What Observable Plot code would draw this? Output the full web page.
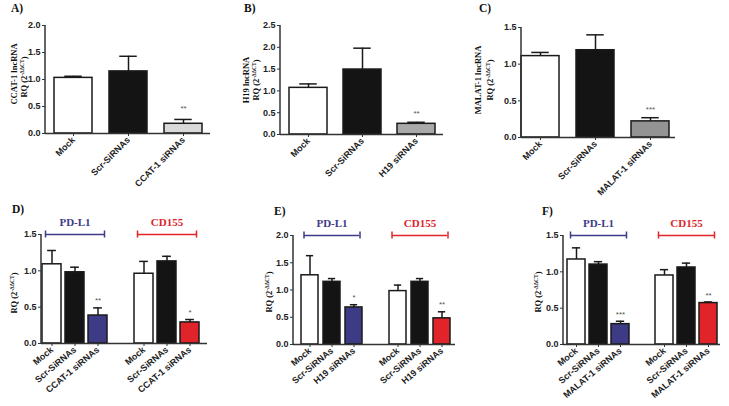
<!DOCTYPE html>
<html><head><meta charset="utf-8">
<script src="https://cdn.jsdelivr.net/npm/d3@7"></script>
<script src="https://cdn.jsdelivr.net/npm/@observablehq/plot@0.6"></script>
<style>
body{margin:0;background:#fff;}
#fig{position:relative;width:729px;height:406px;overflow:hidden;background:#fff;}
.panel{position:absolute;}
#overlay{position:absolute;left:0;top:0;pointer-events:none;}
</style></head><body><div id="fig"></div>
<script>
// ---------------- DATA ----------------
// Panel A
const catsA = ["Mock", "Scr-SiRNAs", "CCAT-1 siRNAs"];
const meanA = [1.03, 1.15, 0.18];
const errA  = [1.06, 1.43, 0.26];   // upper end of error bar
const sigA  = ["", "", "**"];
const ticksA = [0, 0.5, 1.0, 1.5, 2.0];
// Panel B
const catsB = ["Mock", "Scr-SiRNAs", "H19 siRNAs"];
const meanB = [1.07, 1.49, 0.245];
const errB  = [1.16, 1.98, 0.28];
const sigB  = ["", "", "**"];
const ticksB = [0, 0.5, 1.0, 1.5, 2.0, 2.5];
// Panel C
const catsC = ["Mock", "Scr-SiRNAs", "MALAT-1 siRNAs"];
const meanC = [1.11, 1.19, 0.22];
const errC  = [1.16, 1.40, 0.27];
const sigC  = ["", "", "***"];
const ticksC = [0, 0.5, 1.0, 1.5];

const genes = ["PD-L1", "CD155"];
// Panel D (CCAT-1)
const catsD = ["Mock", "Scr-SiRNAs", "CCAT-1 siRNAs"];
const pdl1D = [1.09, 0.98, 0.385];  const pdl1ErrD = [1.28, 1.05, 0.49];  const pdl1SigD = ["", "", "**"];
const cd155D = [0.96, 1.13, 0.29];  const cd155ErrD = [1.13, 1.20, 0.33]; const cd155SigD = ["", "", "*"];
const ticksD = [0, 0.5, 1.0, 1.5];
// Panel E (H19)
const catsE = ["Mock", "Scr-SiRNAs", "H19 siRNAs"];
const pdl1E = [1.27, 1.15, 0.68];   const pdl1ErrE = [1.63, 1.21, 0.73];  const pdl1SigE = ["", "", "*"];
const cd155E = [0.98, 1.15, 0.48];  const cd155ErrE = [1.09, 1.21, 0.60]; const cd155SigE = ["", "", "**"];
const ticksE = [0, 0.5, 1.0, 1.5, 2.0];
// Panel F (MALAT-1)
const catsF = ["Mock", "Scr-SiRNAs", "MALAT-1 siRNAs"];
const pdl1F = [1.17, 1.10, 0.28];   const pdl1ErrF = [1.33, 1.14, 0.32];  const pdl1SigF = ["", "", "***"];
const cd155F = [0.95, 1.06, 0.57];  const cd155ErrF = [1.03, 1.12, 0.585]; const cd155SigF = ["", "", "**"];
const ticksF = [0, 0.5, 1.0, 1.5];

// ---------------- STYLE ----------------
const INK = "#1a1a1a", AX = "#333";
const BLUE = "#3d3b86", RED = "#e0242a";
const fig = d3.select("#fig");

function yAxisLine(yMax) {
  return (index, scales, values, dims) => d3.create("svg:line")
    .attr("x1", dims.marginLeft).attr("x2", dims.marginLeft)
    .attr("y1", scales.y(0)).attr("y2", scales.y(yMax))
    .attr("stroke", AX).attr("stroke-width", 1.5).node();
}

function makePanel(g) {
  const {left, top, width, height, frameL, frameR, yTopPx, yBotPx, ticks, insetL, insetR, bw, domain, axisTicks, fmt, rot, rows, extra, starDy} = g;
  const n = domain.length;
  const L = frameR - frameL - insetL - insetR;
  const step = (L - bw) / (n - 1);
  const pi = 1 - bw / step;
  const yMax = ticks[ticks.length - 1];
  const capIn = bw * 0.27;
  const plot = Plot.plot({
    width, height,
    marginLeft: frameL - left, marginRight: left + width - frameR,
    marginTop: yTopPx - top, marginBottom: top + height - yBotPx,
    style: {background: "transparent", overflow: "visible", fontFamily: "'Liberation Sans', Arial, sans-serif", fontWeight: "bold", color: "#222"},
    x: {domain, paddingInner: pi, paddingOuter: 0, align: 0.5, insetLeft: insetL, insetRight: insetR},
    y: {domain: [0, yMax]},
    color: {type: "identity"},
    marks: [
      Plot.barY(rows, {x: "key", y: "mean", fill: "fill", stroke: INK, strokeWidth: 1.5}),
      Plot.ruleX(rows, {x: "key", y1: "mean", y2: "err", stroke: INK, strokeWidth: 1.5}),
      Plot.tickY(rows, {x: "key", y: "err", stroke: INK, strokeWidth: 1.5, insetLeft: capIn, insetRight: capIn}),
      Plot.text(rows, {x: "key", y: "err", text: "sig", dy: starDy, fontSize: 8, fill: "#555", fontWeight: "normal"}),
      Plot.ruleY([0], {stroke: AX, strokeWidth: 1.5}),
      yAxisLine(yMax),
      Plot.axisY({ticks, tickFormat: d3.format(".1f"), tickSize: 3, tickPadding: 2, label: null, fontSize: 9, stroke: AX}),
      Plot.axisX({ticks: axisTicks, tickFormat: fmt, tickRotate: rot, tickSize: 3, tickPadding: 2, label: null, fontSize: 9, stroke: AX}),
      ...(extra ? extra({bw, yMax, pxPerUnit: (yBotPx - yTopPx) / yMax}) : [])
    ]
  });
  fig.append("div").attr("class", "panel")
    .style("left", left + "px").style("top", top + "px").style("width", width + "px")
    .node().appendChild(plot);
}

function topRows(cats, mean, err, sig, fills) {
  return cats.map((c, i) => ({key: c, mean: mean[i], err: err[i], sig: sig[i], fill: fills[i]}));
}

makePanel({left: 0, top: 0, width: 240, height: 200, frameL: 45, frameR: 210, yTopPx: 25, yBotPx: 133,
  ticks: ticksA, insetL: 8.5, insetR: 8.5, bw: 38, domain: catsA, axisTicks: catsA, fmt: d => d, rot: -45, starDy: -11,
  rows: topRows(catsA, meanA, errA, sigA, ["#ffffff", "#141414", "#d9d9d9"])});
makePanel({left: 240, top: 0, width: 245, height: 200, frameL: 280, frameR: 443, yTopPx: 25, yBotPx: 134,
  ticks: ticksB, insetL: 8, insetR: 8, bw: 38, domain: catsB, axisTicks: catsB, fmt: d => d, rot: -45, starDy: -9,
  rows: topRows(catsB, meanB, errB, sigB, ["#ffffff", "#141414", "#a9a9a9"])});
makePanel({left: 485, top: 0, width: 244, height: 200, frameL: 521, frameR: 675, yTopPx: 27, yBotPx: 137,
  ticks: ticksC, insetL: 0, insetR: 6, bw: 38, domain: catsC, axisTicks: catsC, fmt: d => d, rot: -45, starDy: -8,
  rows: topRows(catsC, meanC, errC, sigC, ["#ffffff", "#141414", "#939393"])});

function bottomPanel(pos, cats, pd, pdErr, pdSig, cd, cdErr, cdSig, ticks) {
  const keys = [];
  const rows = [];
  const geneVals = [[pd, pdErr, pdSig, BLUE], [cd, cdErr, cdSig, RED]];
  genes.forEach((gname, gi) => {
    const [m, e, s, col] = geneVals[gi];
    cats.forEach((c, i) => {
      const key = gname + "|" + c;
      keys.push(key);
      rows.push({key, mean: m[i], err: e[i], sig: s[i], fill: i === 0 ? "#ffffff" : i === 1 ? "#141414" : col});
    });
  });
  const domain = [...keys.slice(0, 3), "gap", ...keys.slice(3)];
  const br = genes.map((gname, gi) => ({gene: gname, k1: gname + "|" + cats[0], k2: gname + "|" + cats[2], mid: gname + "|" + cats[1], color: gi === 0 ? BLUE : RED}));
  makePanel({...pos, ticks, domain, axisTicks: keys, fmt: d => d.split("|")[1], rot: -40, rows, starDy: -7,
    extra: ({bw, yMax, pxPerUnit}) => {
      const c = 3.5 / pxPerUnit, off = bw / 2 - 3;
      return [
        Plot.ruleY(br, {x1: "k1", x2: "k2", y: () => yMax, stroke: "color", strokeWidth: 1.5, insetLeft: 3, insetRight: 3}),
        Plot.ruleX(br, {x: "k1", y1: () => yMax - c, y2: () => yMax + c, dx: -off, stroke: "color", strokeWidth: 1.5}),
        Plot.ruleX(br, {x: "k2", y1: () => yMax - c, y2: () => yMax + c, dx: off, stroke: "color", strokeWidth: 1.5}),
        Plot.text(br, {x: "mid", y: () => yMax, text: "gene", fill: "color", dy: -12, fontSize: 11, fontWeight: "bold", fontFamily: "'Liberation Serif', serif"})
      ];
    }});
}

bottomPanel({left: 0, top: 200, width: 240, height: 206, frameL: 41, frameR: 207, yTopPx: 234, yBotPx: 343, insetL: 1, insetR: 8, bw: 19},
  catsD, pdl1D, pdl1ErrD, pdl1SigD, cd155D, cd155ErrD, cd155SigD, ticksD);
bottomPanel({left: 240, top: 200, width: 240, height: 206, frameL: 293, frameR: 455, yTopPx: 235, yBotPx: 344, insetL: 5, insetR: 2, bw: 18},
  catsE, pdl1E, pdl1ErrE, pdl1SigE, cd155E, cd155ErrE, cd155SigE, ticksE);
bottomPanel({left: 480, top: 200, width: 249, height: 206, frameL: 563, frameR: 720, yTopPx: 235, yBotPx: 344, insetL: 2, insetR: 2, bw: 18},
  catsF, pdl1F, pdl1ErrF, pdl1SigF, cd155F, cd155ErrF, cd155SigF, ticksF);

// ---------------- OVERLAY TEXT ----------------
const ov = fig.append("svg").attr("id", "overlay").attr("width", 729).attr("height", 406)
  .style("font-family", "'Liberation Serif', 'Times New Roman', serif").style("font-weight", "bold").style("fill", "#111");
const letters = [["A)", 11, 12], ["B)", 244, 12], ["C)", 479, 12], ["D)", 12, 213], ["E)", 274, 215], ["F)", 542, 215]];
letters.forEach(([t, x, y]) => ov.append("text").attr("x", x).attr("y", y).attr("font-size", 11.5).text(t));

function rq(x, y) {
  const t = ov.append("text").attr("transform", `translate(${x},${y}) rotate(-90)`).attr("text-anchor", "middle").attr("font-size", 8.5);
  t.append("tspan").text("RQ (2");
  t.append("tspan").attr("dy", -3).attr("font-size", 5.5).text("-ΔΔCT");
  t.append("tspan").attr("dy", 3).text(")");
}
function line1(x, y, s) {
  ov.append("text").attr("transform", `translate(${x},${y}) rotate(-90)`).attr("text-anchor", "middle").attr("font-size", 8.5).text(s);
}
line1(17, 74, "CCAT-1 lncRNA"); rq(27, 77);
line1(249, 80, "H19 lncRNA"); rq(259, 80);
line1(481, 80, "MALAT-1 lncRNA"); rq(493, 80);
rq(17, 293); rq(272, 292); rq(541, 292);
</script></body></html>
